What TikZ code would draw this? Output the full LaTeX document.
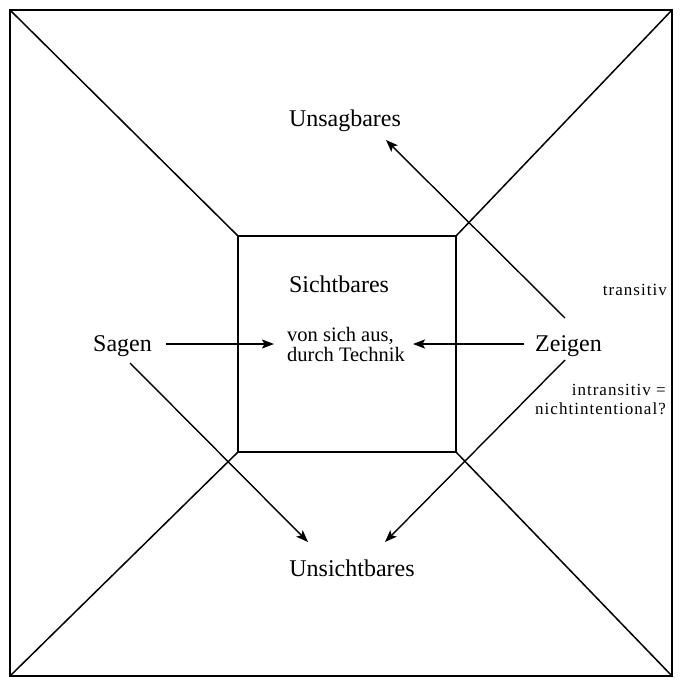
\documentclass[tikz,border=0pt]{standalone}
\usepackage{fontspec}
\setmainfont{Liberation Serif}
\usetikzlibrary{arrows.meta}
\begin{document}
\begin{tikzpicture}[x=1pt,y=-1pt,
  frame/.style={line width=1.5pt, line join=miter},
  conn/.style={line width=1.4pt, -{Stealth[length=12pt,width=9pt,inset=2.5pt]}},
  biglabel/.style={inner sep=0pt, font=\fontsize{24}{28}\selectfont},
  midlabel/.style={inner sep=0pt, font=\fontsize{20.5}{20}\selectfont},
  smalllabel/.style={inner sep=0pt, font=\fontsize{17}{18}\selectfont\addfontfeature{LetterSpace=6}}]
\useasboundingbox (0,0) rectangle (680,683);
% corners
\coordinate (otl) at (10,10);
\coordinate (otr) at (672,10);
\coordinate (obr) at (672,676);
\coordinate (obl) at (10,676);
\coordinate (itl) at (238,236);
\coordinate (itr) at (456,236);
\coordinate (ibr) at (456,452);
\coordinate (ibl) at (238,452);
\draw[frame] (otl) -- (otr) -- (obr) -- (obl) -- cycle;
\draw[frame] (itl) -- (itr) -- (ibr) -- (ibl) -- cycle;
\draw[frame] (otl) -- (itl);
\draw[frame] (otr) -- (itr);
\draw[frame] (obr) -- (ibr);
\draw[frame] (obl) -- (ibl);
% labels
\node[biglabel, anchor=base] (unsag) at (345,126) {Unsagbares};
\node[biglabel, anchor=base] (sicht) at (339,292) {Sichtbares};
\node[midlabel, anchor=base west] (von) at (287,341) {von sich aus,};
\node[midlabel, anchor=base west] (durch) at (287,361) {durch Technik};
\node[biglabel, anchor=base west] (sagen) at (93,351) {Sagen};
\node[biglabel, anchor=base west] (zeigen) at (535,351) {Zeigen};
\node[biglabel, anchor=base] (unsicht) at (352,576) {Unsichtbares};
\node[smalllabel, anchor=base east] (trans) at (667,295) {transitiv};
\node[smalllabel, anchor=base east] (intrans) at (666,395) {intransitiv =};
\node[smalllabel, anchor=base east] (nicht) at (666,414) {nichtintentional?};
% arrow end points
\coordinate (sa1) at (166,344);
\coordinate (sa2) at (274,344);
\coordinate (za1) at (524,344);
\coordinate (za2) at (413,344);
\coordinate (zu1) at (565,318);
\coordinate (zu2) at (386,140);
\coordinate (zd1) at (565,360);
\coordinate (zd2) at (385,542);
\coordinate (sd1) at (130,363);
\coordinate (sd2) at (308,542);
\draw[conn] (sa1) -- (sa2);
\draw[conn] (za1) -- (za2);
\draw[conn] (zu1) -- (zu2);
\draw[conn] (zd1) -- (zd2);
\draw[conn] (sd1) -- (sd2);
\end{tikzpicture}
\end{document}
